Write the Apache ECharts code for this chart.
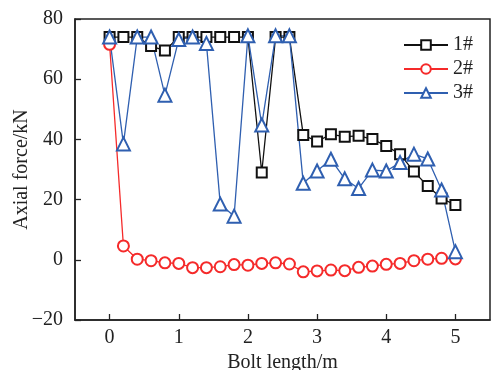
<!DOCTYPE html>
<html><head><meta charset="utf-8">
<script src="https://cdn.jsdelivr.net/npm/echarts@6/dist/echarts.min.js"></script>
<style>html,body{margin:0;padding:0;background:#fff}#c{width:491px;height:370px}</style>
</head><body><div id="c"></div>
<script>
const positions = [0,0.2,0.4,0.6,0.8,1.0,1.2,1.4,1.6,1.8,2.0,2.2,2.4,2.6,2.8,3.0,3.2,3.4,3.6,3.8,4.0,4.2,4.4,4.6,4.8,5.0];
const bolt1 = [74,74,74,71,69.5,74,74,74,74,74,74,29,74,74,41.5,39.3,41.7,40.9,41.2,40.1,37.8,35.1,29.3,24.5,20.4,18.2];
const bolt2 = [71.6,4.6,0.2,-0.3,-1,-1.2,-2.6,-2.6,-2.3,-1.6,-1.8,-1.2,-1,-1.4,-4,-3.7,-3.4,-3.6,-2.5,-2.1,-1.5,-1.2,-0.3,0.2,0.5,0.3];
const bolt3 = [74,38.5,74,74,54.7,73.2,74,71.9,18.5,14.5,74.4,44.8,74.4,74.4,25.4,29.5,33.4,26.9,23.7,29.8,29.5,32.3,35.1,33.5,23.2,2.7];
const seriesNames = ['1#','2#','3#'];
const xTicks = [0,1,2,3,4,5];

const pair = (ys) => positions.map((x,i)=>[x,ys[i]]);
const font = '"Liberation Serif","Times New Roman",serif';
const chart = echarts.init(document.getElementById('c'), null, {renderer:'canvas'});
const mk = (name, data, color, symbol, size) => ({
  name, type:'line', data: pair(data), symbol, symbolSize:size,
  lineStyle:{color, width:1.3}, itemStyle:{color, borderColor:color, borderWidth:1.3},
  emphasis:{disabled:true}, animation:false
});
chart.setOption({
  animation:false,
  grid:{left:75, top:19, right:1, bottom:50, containLabel:false, outerBoundsMode:'none',
    show:true, borderColor:'#222', borderWidth:1.5, backgroundColor:'transparent'},
  legend:{
    left:398, top:30, orient:'vertical', itemWidth:44, itemHeight:12, itemGap:4,
    textStyle:{fontFamily:font, fontSize:20, color:'#222'},
    data: seriesNames
  },
  xAxis:{
    type:'value', min:-0.5, max:5.5,
    name:'Bolt length/m', nameLocation:'middle', nameGap:31,
    nameTextStyle:{fontFamily:font, fontSize:20, color:'#222'},
    axisLine:{show:true, onZero:false, lineStyle:{color:'#222', width:1.5}},
    axisTick:{show:true, inside:true, length:6, customValues:xTicks, lineStyle:{color:'#222', width:1.3}},
    axisLabel:{customValues:xTicks, fontFamily:font, fontSize:20, color:'#222', margin:8},
    splitLine:{show:false}
  },
  yAxis:{
    type:'value', min:-20, max:80, interval:20,
    name:'Axial force/kN', nameLocation:'middle', nameGap:43, nameMoveOverlap:false,
    nameTextStyle:{fontFamily:font, fontSize:20, color:'#222'},
    axisLine:{show:true, onZero:false, lineStyle:{color:'#222', width:1.5}},
    axisTick:{show:true, inside:true, length:6, lineStyle:{color:'#222', width:1.3}},
    axisLabel:{fontFamily:font, fontSize:20, color:'#222', margin:12,
      formatter:(v)=> v<0 ? '\u2212'+Math.abs(v) : String(v)},
    splitLine:{show:false}
  },
  series:[
    mk(seriesNames[0], bolt1, '#111111', 'emptyRect', 10),
    mk(seriesNames[1], bolt2, '#f52a2a', 'emptyCircle', 11),
    mk(seriesNames[2], bolt3, '#2f5fb0', 'emptyTriangle', 13)
  ]
});
</script></body></html>
